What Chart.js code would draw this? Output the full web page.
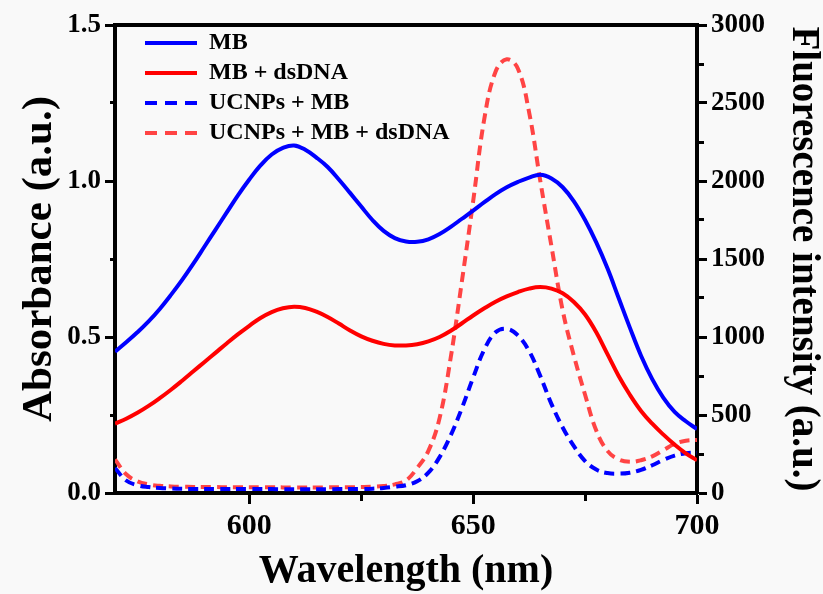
<!DOCTYPE html>
<html>
<head>
<meta charset="utf-8">
<script src="https://cdn.jsdelivr.net/npm/chart.js@4/dist/chart.umd.min.js"></script>
<style>
  html, body { margin: 0; padding: 0; background: #f9f9f9; }
  #wrap { width: 823px; height: 594px; }
</style>
</head>
<body>
<div id="wrap"><canvas id="c" width="823" height="594"></canvas></div>
<script>
// ---- data ----
const wavelengths = [570,572.5,575,577.5,580,582.5,585,587.5,590,592.5,595,597.5,600,602.5,605,607.5,610,612.5,615,617.5,620,622.5,625,627.5,630,632.5,635,637.5,640,642.5,645,647.5,650,652.5,655,657.5,660,662.5,665,667.5,670,672.5,675,677.5,680,682.5,685,687.5,690,692.5,695,697.5,700];

// Absorbance (left axis)
const absMB = [0.453,0.483,0.515,0.55,0.59,0.635,0.683,0.735,0.79,0.845,0.9,0.955,1.005,1.05,1.085,1.106,1.114,1.1,1.075,1.045,1.005,0.962,0.918,0.875,0.84,0.817,0.806,0.805,0.813,0.83,0.853,0.879,0.905,0.932,0.958,0.98,0.997,1.011,1.02,1.008,0.98,0.935,0.875,0.803,0.72,0.625,0.53,0.44,0.365,0.305,0.26,0.23,0.205];
const absMBdsDNA = [0.222,0.238,0.257,0.279,0.304,0.331,0.36,0.39,0.42,0.45,0.48,0.509,0.536,0.561,0.58,0.592,0.597,0.593,0.581,0.564,0.543,0.521,0.502,0.488,0.478,0.473,0.473,0.477,0.486,0.5,0.52,0.544,0.569,0.592,0.613,0.63,0.644,0.655,0.66,0.655,0.64,0.612,0.572,0.515,0.445,0.375,0.315,0.263,0.222,0.187,0.155,0.127,0.105];

// Fluorescence intensity (right axis)
const flUCNPsMB = [160,80,50,38,32,29,27,26,26,25,25,26,26,25,25,24,24,24,24,24,25,25,26,28,32,40,50,75,130,230,370,545,740,920,1030,1052,1010,910,750,570,420,300,205,150,128,124,130,148,178,212,240,255,258];
const flUCNPsMBdsDNA = [215,120,75,55,46,42,40,39,38,38,37,37,37,37,37,36,36,36,36,36,37,37,38,40,45,55,80,160,270,480,870,1360,1870,2400,2700,2780,2720,2440,2000,1580,1170,880,630,400,270,215,200,210,235,275,315,335,340];

// tick labels / ranges
const xMajorTicks = [600, 650, 700];
const yLeftMajorStep = 0.5;
const yRightMajorStep = 500;

const seriesNames = ['MB', 'MB + dsDNA', 'UCNPs + MB', 'UCNPs + MB + dsDNA'];
const xTitle = 'Wavelength (nm)';
const yLeftTitle = 'Absorbance (a.u.)';
const yRightTitle = 'Fluorescence intensity (a.u.)';

// ---- chart ----
const pts = arr => wavelengths.map((w, i) => ({x: w, y: arr[i]}));
const FONT = 'Liberation Serif, Times New Roman, serif';

const isMajorX = v => xMajorTicks.includes(v);
const isMajorYL = v => Math.abs(v / yLeftMajorStep - Math.round(v / yLeftMajorStep)) < 1e-6;
const isMajorYR = v => Math.abs(v / yRightMajorStep - Math.round(v / yRightMajorStep)) < 1e-6;

const legendShift = {
  id: 'legendShift',
  afterLayout(chart) {
    const l = chart.legend;
    if (l) { l.left = chart.chartArea.left + 24; l.top = chart.chartArea.top; }
  }
};

const DASH = [10, 6];

new Chart(document.getElementById('c'), {
  type: 'line',
  data: {
    datasets: [
      { label: seriesNames[0], data: pts(absMB), yAxisID: 'y', borderColor: '#0000ff', borderWidth: 4 },
      { label: seriesNames[1], data: pts(absMBdsDNA), yAxisID: 'y', borderColor: '#ff0000', borderWidth: 4 },
      { label: seriesNames[2], data: pts(flUCNPsMB), yAxisID: 'y2', borderColor: '#0000ff', borderWidth: 4, borderDash: DASH },
      { label: seriesNames[3], data: pts(flUCNPsMBdsDNA), yAxisID: 'y2', borderColor: '#ff4444', borderWidth: 4, borderDash: DASH }
    ]
  },
  options: {
    responsive: false,
    animation: false,
    layout: { padding: 0 },
    elements: {
      point: { radius: 0, hoverRadius: 0 },
      line: { tension: 0.4, fill: false, backgroundColor: 'transparent' }
    },
    plugins: {
      tooltip: { enabled: false },
      legend: {
        position: 'chartArea',
        align: 'start',
        labels: {
          usePointStyle: true,
          pointStyle: 'line',
          pointStyleWidth: 52,
          boxHeight: 24,
          padding: 6,
          color: '#000',
          font: { family: FONT, size: 24, weight: 'bold' },
          generateLabels: chart => {
            const items = Chart.defaults.plugins.legend.labels.generateLabels(chart);
            items.forEach(it => {
              const ds = chart.data.datasets[it.datasetIndex];
              it.lineDash = ds.borderDash ? [12, 8] : [];
              it.lineDashOffset = 0;
              it.strokeStyle = ds.borderColor;
              it.fillStyle = ds.borderColor;
              it.lineWidth = 4;
              it.lineCap = 'butt';
              it.pointStyle = 'line';
            });
            return items;
          }
        }
      }
    },
    scales: {
      x: {
        type: 'linear',
        position: 'bottom',
        min: 570, max: 700,
        afterBuildTicks: s => { s.ticks = s.ticks.filter(t => t.value % 25 === 0); },
        afterFit: s => { s.height = 101; },
        ticks: {
          stepSize: 25, autoSkip: false, maxRotation: 0, padding: 4, color: '#000',
          font: { family: FONT, size: 30, weight: 'bold' },
          callback: v => isMajorX(v) ? String(v) : ''
        },
        grid: {
          drawOnChartArea: false, drawTicks: true, tickLength: 11, tickWidth: 3, tickColor: '#000',
          tickBorderDash: ctx => (ctx.tick && isMajorX(ctx.tick.value)) ? [] : [6, 100]
        },
        border: { display: true, color: '#000', width: 4 },
        title: {
          display: true, text: xTitle, color: '#000',
          font: { family: FONT, size: 40, weight: 'bold', lineHeight: 1 },
          padding: { top: 0, bottom: 2 }
        }
      },
      xTop: {
        type: 'linear',
        position: 'top',
        min: 570, max: 700,
        afterFit: s => { s.height = 25; },
        ticks: { display: false },
        grid: { drawOnChartArea: false, drawTicks: false },
        border: { display: true, color: '#000', width: 4 }
      },
      y: {
        type: 'linear',
        position: 'left',
        min: 0, max: 1.5,
        afterFit: s => { s.width = 115; },
        ticks: {
          stepSize: 0.25, autoSkip: false, padding: 4, color: '#000',
          font: { family: FONT, size: 27, weight: 'bold' },
          callback: v => isMajorYL(v) ? Number(v).toFixed(1) : ''
        },
        grid: {
          drawOnChartArea: false, drawTicks: true, tickLength: 10, tickWidth: 3, tickColor: '#000',
          tickBorderDash: ctx => (ctx.tick && isMajorYL(ctx.tick.value)) ? [] : [5, 5],
          tickBorderDashOffset: ctx => (ctx.tick && isMajorYL(ctx.tick.value)) ? 0 : 5
        },
        border: { display: true, color: '#000', width: 4 },
        title: {
          display: true, text: yLeftTitle, color: '#000',
          font: { family: FONT, size: 43, weight: 'bold', lineHeight: 1 },
          padding: { top: 18, bottom: 0 }
        }
      },
      y2: {
        type: 'linear',
        position: 'right',
        min: 0, max: 3000,
        afterFit: s => { s.width = 126; },
        ticks: {
          stepSize: 250, autoSkip: false, padding: 4, color: '#000',
          font: { family: FONT, size: 27, weight: 'bold' },
          callback: v => isMajorYR(v) ? String(v) : ''
        },
        grid: {
          drawOnChartArea: false, drawTicks: true, tickLength: 10, tickWidth: 3, tickColor: '#000',
          tickBorderDash: ctx => (ctx.tick && isMajorYR(ctx.tick.value)) ? [] : [5, 100]
        },
        border: { display: true, color: '#000', width: 4 },
        title: {
          display: true, text: yRightTitle, color: '#000',
          font: { family: FONT, size: 39, weight: 'bold', lineHeight: 1 },
          padding: { top: 0, bottom: 0 }
        }
      }
    }
  },
  plugins: [legendShift]
});
</script>
</body>
</html>
